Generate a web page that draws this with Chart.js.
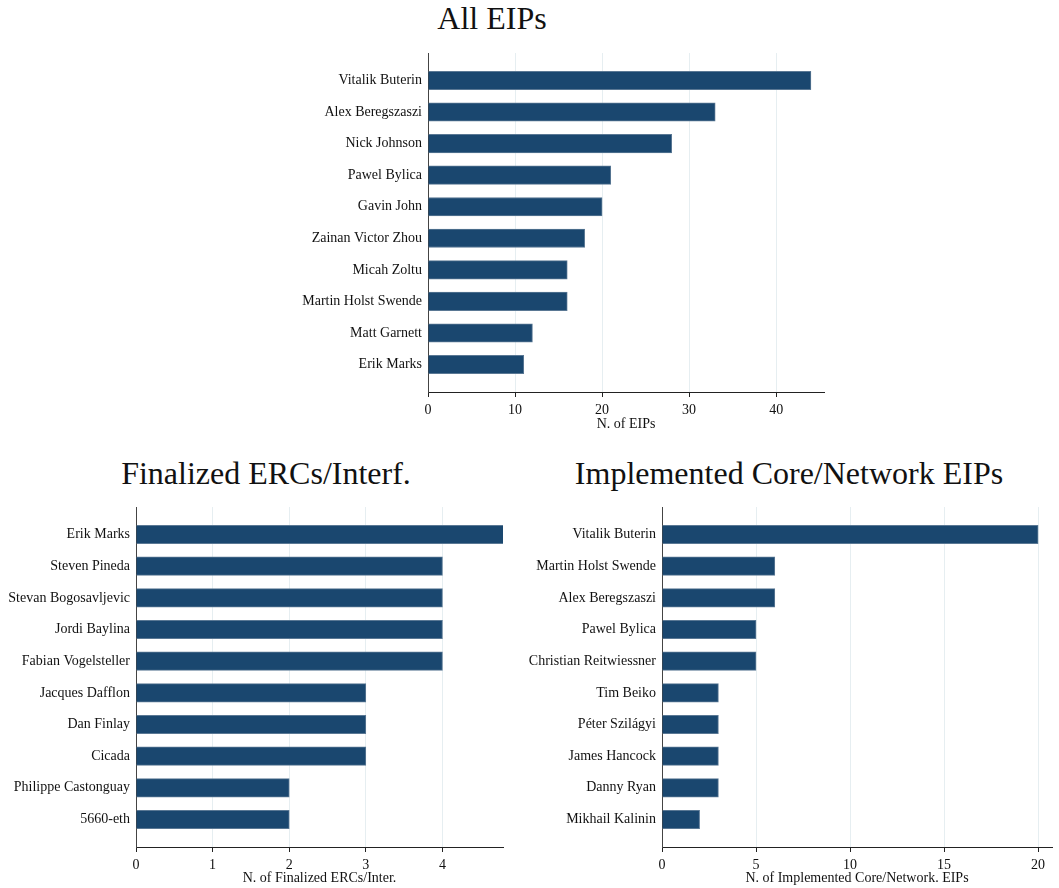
<!DOCTYPE html>
<html>
<head>
<meta charset="utf-8">
<script src="https://cdn.jsdelivr.net/npm/chart.js@4"></script>
<style>
  body { margin: 0; background: #fff; }
  #page { position: relative; width: 1059px; height: 888px; background: #fff; overflow: hidden; }
  canvas { position: absolute; }
  .title { position: absolute; font-family: "Liberation Serif", serif; font-size: 32px; line-height: 1; color: #111; text-align: center; white-space: nowrap; }
</style>
</head>
<body>
<div id="page">
  <div class="title" style="left:292px; top:2px; width:400px;">All EIPs</div>
  <div class="title" style="left:66px; top:457px; width:400px;">Finalized ERCs/Interf.</div>
  <div class="title" style="left:539px; top:457px; width:500px;">Implemented Core/Network EIPs</div>
  <canvas id="allChart" width="550" height="388" style="left:290px; top:45px;"></canvas>
  <canvas id="ercChart" width="520" height="387" style="left:0px; top:500px;"></canvas>
  <canvas id="coreChart" width="539" height="387" style="left:520px; top:500px;"></canvas>
</div>
<script>
// All EIPs
const allNames = ["Vitalik Buterin", "Alex Beregszaszi", "Nick Johnson", "Pawel Bylica", "Gavin John",
    "Zainan Victor Zhou", "Micah Zoltu", "Martin Holst Swende", "Matt Garnett", "Erik Marks"];
const allCounts = [44, 33, 28, 21, 20, 18, 16, 16, 12, 11];

// Finalized ERCs / interfaces
const ercNames = ["Erik Marks", "Steven Pineda", "Stevan Bogosavljevic", "Jordi Baylina", "Fabian Vogelsteller",
    "Jacques Dafflon", "Dan Finlay", "Cicada", "Philippe Castonguay", "5660-eth"];
const ercCounts = [5, 4, 4, 4, 4, 3, 3, 3, 2, 2];

// Implemented core / network EIPs
const coreNames = ["Vitalik Buterin", "Martin Holst Swende", "Alex Beregszaszi", "Pawel Bylica", "Christian Reitwiessner",
    "Tim Beiko", "Péter Szilágyi", "James Hancock", "Danny Ryan", "Mikhail Kalinin"];
const coreCounts = [20, 6, 6, 5, 5, 3, 3, 3, 3, 2];

const barColor = "#1a476f";
const gridColor = "#e6eef1";
const serif = "'Liberation Serif', 'Times New Roman', serif";

function makeChart(id, names, counts, axisTitle, xMax, step, box) {
    const ctx = document.getElementById(id).getContext("2d");
    return new Chart(ctx, {
        type: "bar",
        data: {
            datasets: [{
                data: names.map((n, i) => ({ x: counts[i], y: i })),
                backgroundColor: barColor,
                borderColor: "#5a7894",
                borderWidth: 1,
                barThickness: 18.5
            }]
        },
        options: {
            indexAxis: "y",
            responsive: false,
            animation: false,
            layout: { padding: { top: box.padTop, right: box.padRight, left: 0, bottom: 0 } },
            plugins: { legend: { display: false }, tooltip: { enabled: false } },
            scales: {
                x: {
                    type: "linear",
                    min: 0,
                    max: xMax,
                    grid: { color: gridColor, lineWidth: 1, tickColor: "#222", tickLength: 5 },
                    border: { color: "#222", width: 1 },
                    ticks: {
                        stepSize: step,
                        includeBounds: false,
                        padding: 5,
                        color: "#111",
                        font: { family: serif, size: 14 }
                    },
                    title: {
                        display: true,
                        text: axisTitle,
                        color: "#111",
                        padding: 0,
                        font: { family: serif, size: 14 }
                    },
                    afterFit: s => { s.height = box.xHeight; }
                },
                y: {
                    type: "linear",
                    reverse: true,
                    offset: false,
                    min: -0.87,
                    max: names.length - 1 + 0.87,
                    grid: { display: false, drawTicks: false, offset: false },
                    border: { color: "#444", width: 1 },
                    afterBuildTicks: s => { s.ticks = names.map((n, i) => ({ value: i })); },
                    ticks: {
                        padding: 6,
                        color: "#111",
                        font: { family: serif, size: 14 },
                        callback: v => names[v]
                    },
                    afterFit: s => {
                        s.width = box.yWidth;
                        s.paddingTop = 0;
                        s.paddingBottom = 0;
                    }
                }
            }
        }
    });
}

makeChart("allChart", allNames, allCounts, "N. of EIPs", 45.5, 10,
    { padTop: 8, padRight: 16, yWidth: 138, xHeight: 41 });
makeChart("ercChart", ercNames, ercCounts, "N. of Finalized ERCs/Inter.", 4.79, 1,
    { padTop: 7, padRight: 17, yWidth: 136, xHeight: 40 });
makeChart("coreChart", coreNames, coreCounts, "N. of Implemented Core/Network. EIPs", 20.74, 5,
    { padTop: 7, padRight: 7, yWidth: 142, xHeight: 40 });
</script>
</body>
</html>
